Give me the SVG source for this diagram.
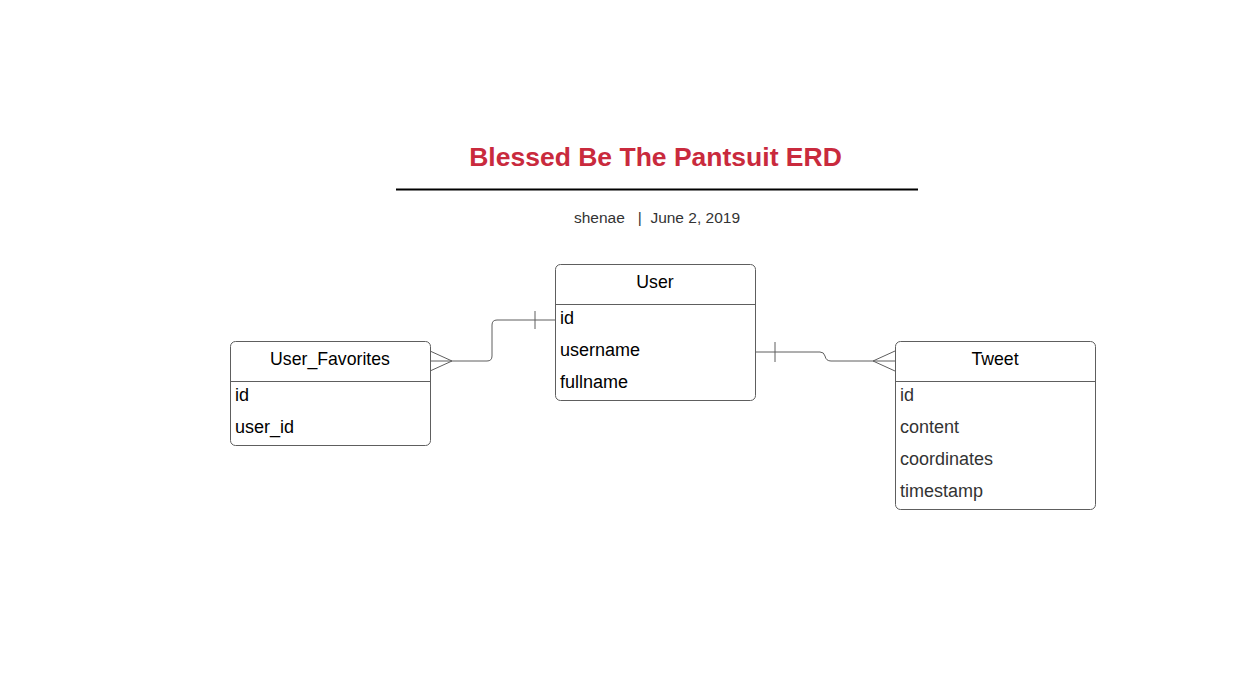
<svg xmlns="http://www.w3.org/2000/svg" width="1241" height="689" viewBox="0 0 1241 689">
<style>
.box{fill:#fff;stroke:#5e5e5e;stroke-width:1}
.sep{stroke:#5e5e5e;stroke-width:1}
.hd{font-family:"Liberation Sans",Arial,sans-serif;font-size:17.7px;fill:#000;text-anchor:middle}
.row{font-family:"Liberation Sans",Arial,sans-serif;font-size:18px;fill:#000}
.row2{font-family:"Liberation Sans",Arial,sans-serif;font-size:18px;fill:#333}
.conn{fill:none;stroke:#5e5e5e;stroke-width:1}
</style>
<rect width="1241" height="689" fill="#fff"/>
<g id="title">
<text x="655.5" y="166" font-family="Liberation Sans,Arial,sans-serif" font-size="26.5" font-weight="bold" fill="#c92a3d" text-anchor="middle">Blessed Be The Pantsuit ERD</text>
<line x1="396" y1="189.5" x2="918" y2="189.5" stroke="#000" stroke-width="2"/>
<text x="657" y="223" font-family="Liberation Sans,Arial,sans-serif" font-size="15.5" fill="#333" text-anchor="middle" xml:space="preserve">shenae   |  June 2, 2019</text>
</g>
<g id="connectors">
<path class="conn" d="M555,320 H497 Q492,320 492,325 V356 Q492,361 487,361 H430"/>
<line class="conn" x1="535" y1="311" x2="535" y2="329"/>
<path class="conn" d="M452,361 L430,351 M452,361 L430,371"/>
<path class="conn" d="M755,352 H820 Q824,352 825,356 Q826,361 831,361 H895"/>
<line class="conn" x1="775" y1="342" x2="775" y2="362"/>
<path class="conn" d="M873,361 L895,351 M873,361 L895,371"/>
</g>
<g id="User">
<rect class="box" x="555.5" y="264.5" width="200" height="136" rx="5"/>
<line class="sep" x1="555.5" y1="304.5" x2="755.5" y2="304.5"/>
<text class="hd" x="655" y="288">User</text>
<text class="row" x="560" y="324">id</text>
<text class="row" x="560" y="356">username</text>
<text class="row" x="560" y="388">fullname</text>
</g>
<g id="User_Favorites">
<rect class="box" x="230.5" y="341.5" width="200" height="104" rx="5"/>
<line class="sep" x1="230.5" y1="381.5" x2="430.5" y2="381.5"/>
<text class="hd" x="330" y="365">User_Favorites</text>
<text class="row" x="235" y="401">id</text>
<text class="row" x="235" y="433">user_id</text>
</g>
<g id="Tweet">
<rect class="box" x="895.5" y="341.5" width="200" height="168" rx="5"/>
<line class="sep" x1="895.5" y1="381.5" x2="1095.5" y2="381.5"/>
<text class="hd" x="995" y="365" fill="#333">Tweet</text>
<text class="row2" x="900" y="401">id</text>
<text class="row2" x="900" y="433">content</text>
<text class="row2" x="900" y="465">coordinates</text>
<text class="row2" x="900" y="497">timestamp</text>
</g>
</svg>
